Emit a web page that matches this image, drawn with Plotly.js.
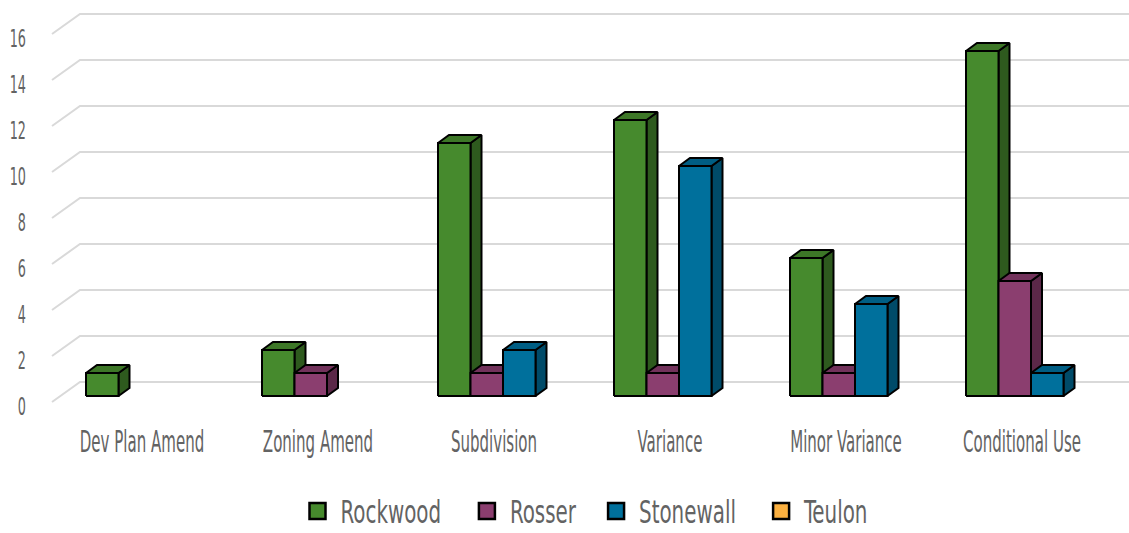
<!DOCTYPE html>
<html>
<head>
<meta charset="utf-8">
<script src="https://cdn.plot.ly/plotly-3.0.1.min.js"></script>
<style>html,body{margin:0;padding:0;background:#fff}</style>
</head>
<body>
<div id="chart" style="width:1129px;height:533px"></div>
<script>
// Applications by type and municipality
const categories = ['Dev Plan Amend', 'Zoning Amend', 'Subdivision', 'Variance', 'Minor Variance', 'Conditional Use'];
const rockwood  = [1, 2, 11, 12, 6, 15];
const rosser    = [null, 1, 1, 1, 1, 5];
const stonewall = [null, null, 2, 10, 4, 1];
const teulon    = [null, null, null, null, null, null];
const seriesNames = ['Rockwood', 'Rosser', 'Stonewall', 'Teulon'];
const yTicks = [0, 2, 4, 6, 8, 10, 12, 14, 16];

const seriesValues = [rockwood, rosser, stonewall, teulon];

// face colours for each series: front, top, side
const palette = [
  {front: '#468a2d', top: '#3d7727', side: '#2e5a1e'},
  {front: '#8b3e6f', top: '#72325b', side: '#5b2848'},
  {front: '#00709c', top: '#005e84', side: '#004b69'},
  {front: '#fbb040', top: '#d99536', side: '#b0782a'}
];

const FONT = '"DejaVu Sans Condensed", "DejaVu Sans", sans-serif';
const TEXT = '#636363';

// plot frame in pixels and the scale of both axes
const L = 30, R = 1129, T = 0, B = 425, H = 533;
const catPx0 = 142, catStep = 176;   // first category centre and spacing
const basePx = 396, unitPx = 23;     // baseline of the bars and pixels per unit
const xRange = [(L - catPx0) / catStep, (R - catPx0) / catStep];
const yRange = [(basePx - B) / unitPx, (basePx - T) / unitPx];
const px2x = p => (p - catPx0) / catStep;

// bar box geometry (in axis units)
const groupOff = -56 / catStep;
const barW = 32.5 / catStep;
const dX = 11 / catStep, dY = 8 / unitPx;
// the back wall sits above/behind the bars, the floor edge in front
const wallBack = 14 / unitPx, wallFront = -6 / unitPx;

const traces = [];

// back-wall grid with its slanted side edges
const gx = [], gy = [];
yTicks.forEach(v => {
  gx.push(px2x(52), px2x(80), xRange[1], null);
  gy.push(v + wallFront, v + wallBack, v + wallBack, null);
});
traces.push({
  type: 'scatter', mode: 'lines', x: gx, y: gy,
  line: {color: '#d9d9d9', width: 2}, hoverinfo: 'skip', showlegend: false
});

// 3-D boxes: each series adds its side, top and front faces
seriesValues.forEach((vals, s) => {
  const front = {x: [], y: []}, top = {x: [], y: []}, side = {x: [], y: []};
  vals.forEach((v, i) => {
    if (v === null || v === undefined) return;
    const xl = i + groupOff + s * barW, xr = xl + barW;
    front.x.push(xl, xr, xr, xl, xl, null);
    front.y.push(0, 0, v, v, 0, null);
    top.x.push(xl, xr, xr + dX, xl + dX, xl, null);
    top.y.push(v, v, v + dY, v + dY, v, null);
    side.x.push(xr, xr + dX, xr + dX, xr, xr, null);
    side.y.push(0, dY, v + dY, v, 0, null);
  });
  const c = palette[s];
  [[side, c.side], [top, c.top], [front, c.front]].forEach(([f, col]) => {
    if (!f.x.length) return;
    traces.push({
      type: 'scatter', mode: 'lines', x: f.x, y: f.y, fill: 'toself',
      fillcolor: col, line: {color: '#000', width: 2},
      hoverinfo: 'skip', showlegend: false
    });
  });
});

// legend keys
seriesNames.forEach((name, s) => {
  traces.push({
    type: 'scatter', mode: 'markers', x: [null], y: [null], name: name,
    marker: {symbol: 'square', size: 16, color: palette[s].front, line: {color: '#000', width: 2.5}},
    hoverinfo: 'skip'
  });
});

const layout = {
  width: 1129, height: H,
  margin: {l: L, r: 1129 - R, t: T, b: H - B, autoexpand: false},
  paper_bgcolor: '#fff', plot_bgcolor: '#fff',
  showlegend: true,
  xaxis: {
    range: xRange, tickvals: categories.map((_, i) => i), ticktext: categories,
    showgrid: false, zeroline: false, showline: false, ticks: '',
    ticklabelstandoff: 1,
    tickfont: {family: FONT, size: 22, color: TEXT}, fixedrange: true
  },
  yaxis: {
    range: yRange, tickvals: yTicks.map(v => v - 0.45), ticktext: yTicks.map(String),
    showgrid: false, zeroline: false, showline: false, ticks: '',
    ticklabelstandoff: 3,
    tickfont: {family: FONT, size: 20, color: TEXT}, fixedrange: true
  },
  legend: {
    orientation: 'h', x: (590 - L) / (R - L), xanchor: 'center',
    y: (B - 511) / (B - T), yanchor: 'middle',
    itemwidth: 36,
    font: {family: FONT, size: 26, color: TEXT}
  }
};

// narrow, tall lettering: squeeze each label around its anchor point
function squeeze(selector, sx, sy) {
  document.querySelectorAll('#chart ' + selector).forEach(t => {
    const b = t.getBBox();
    const a = t.getAttribute('text-anchor') || 'start';
    const ox = a === 'middle' ? b.x + b.width / 2 : a === 'end' ? b.x + b.width : b.x;
    const oy = b.y + b.height / 2;
    const tr = t.getAttribute('transform') || '';
    t.setAttribute('transform',
      `${tr} translate(${ox},${oy}) scale(${sx},${sy}) translate(${-ox},${-oy})`);
  });
}

// give the legend room for the taller lettering: bigger box, no scroll clip
function openLegend(pad) {
  const rects = [...document.querySelectorAll('#chart .legend rect.bg')];
  document.querySelectorAll('#chart clipPath[id^="legend"] rect').forEach(r => rects.push(r));
  rects.forEach(r => {
    const y = parseFloat(r.getAttribute('y') || 0);
    const h = parseFloat(r.getAttribute('height') || 0);
    r.setAttribute('y', y - pad);
    r.setAttribute('height', h + 2 * pad);
  });
  document.querySelectorAll('#chart .legend, #chart .legend [clip-path]')
    .forEach(el => { el.removeAttribute('clip-path'); el.style.clipPath = 'none'; });
}

Plotly.newPlot('chart', traces, layout, {displayModeBar: false, staticPlot: true}).then(() => {
  squeeze('.xtick text', 0.76, 1.36);
  squeeze('.ytick text', 0.71, 1.22);
  squeeze('.legendtext', 0.85, 1.25);
  openLegend(6);
});
</script>
</body>
</html>
